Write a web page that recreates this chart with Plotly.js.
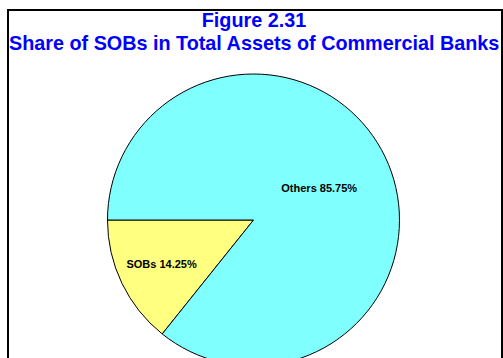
<!DOCTYPE html>
<html>
<head>
<meta charset="utf-8">
<script src="https://cdn.plot.ly/plotly-3.0.1.min.js"></script>
<style>
html,body{margin:0;padding:0;background:#fff;overflow:hidden;width:503px;height:358px;}
#frame{position:absolute;left:7px;top:9px;width:492px;height:400px;border:2px solid #000;border-bottom:none;box-sizing:content-box;}
#chart{position:absolute;left:0;top:0;width:503px;height:420px;}
</style>
</head>
<body>
<div id="frame"></div>
<div id="chart"></div>
<script>
const titleLine1 = 'Figure 2.31';
const titleLine2 = 'Share of SOBs in Total Assets of Commercial Banks';
const categories = ['SOBs', 'Others'];
const shares = [14.25, 85.75];
const sliceColors = ['#FFFF80', '#80FFFF'];

const H = 420;
const total = shares.reduce((a, b) => a + b, 0);
const startAngle = 270 - shares[0] / total * 360;
const trace = {
  type: 'pie',
  labels: categories,
  values: shares,
  sort: false,
  direction: 'clockwise',
  rotation: startAngle,
  marker: {colors: sliceColors, line: {color: '#000', width: 1}},
  texttemplate: '%{label} %{percent:.2%}',
  textposition: 'inside',
  insidetextorientation: 'horizontal',
  textfont: {family: 'Liberation Sans, Arial, sans-serif', size: 11, color: '#000', weight: 'bold'},
  hoverinfo: 'none',
  domain: {x: [107.5/503, 399.5/503], y: [(H-366)/H, (H-74)/H]}
};

const layout = {
  width: 503, height: H,
  margin: {l: 0, r: 0, t: 0, b: 0},
  paper_bgcolor: 'rgba(0,0,0,0)',
  showlegend: false,
  title: {
    text: titleLine1,
    font: {family: 'Liberation Sans, Arial, sans-serif', size: 19.8, color: '#0000FF', weight: 'bold'},
    x: 0.505, xanchor: 'center',
    y: 1 - 13/H, yanchor: 'top'
  },
  annotations: [{
    text: titleLine2,
    xref: 'paper', yref: 'paper',
    x: 0.505, xanchor: 'center',
    y: 1 - 30/H, yanchor: 'top',
    showarrow: false,
    font: {family: 'Liberation Sans, Arial, sans-serif', size: 19.8, color: '#0000FF', weight: 'bold'}
  }]
};

Plotly.newPlot('chart', [trace], layout, {staticPlot: true, displayModeBar: false});
</script>
</body>
</html>
